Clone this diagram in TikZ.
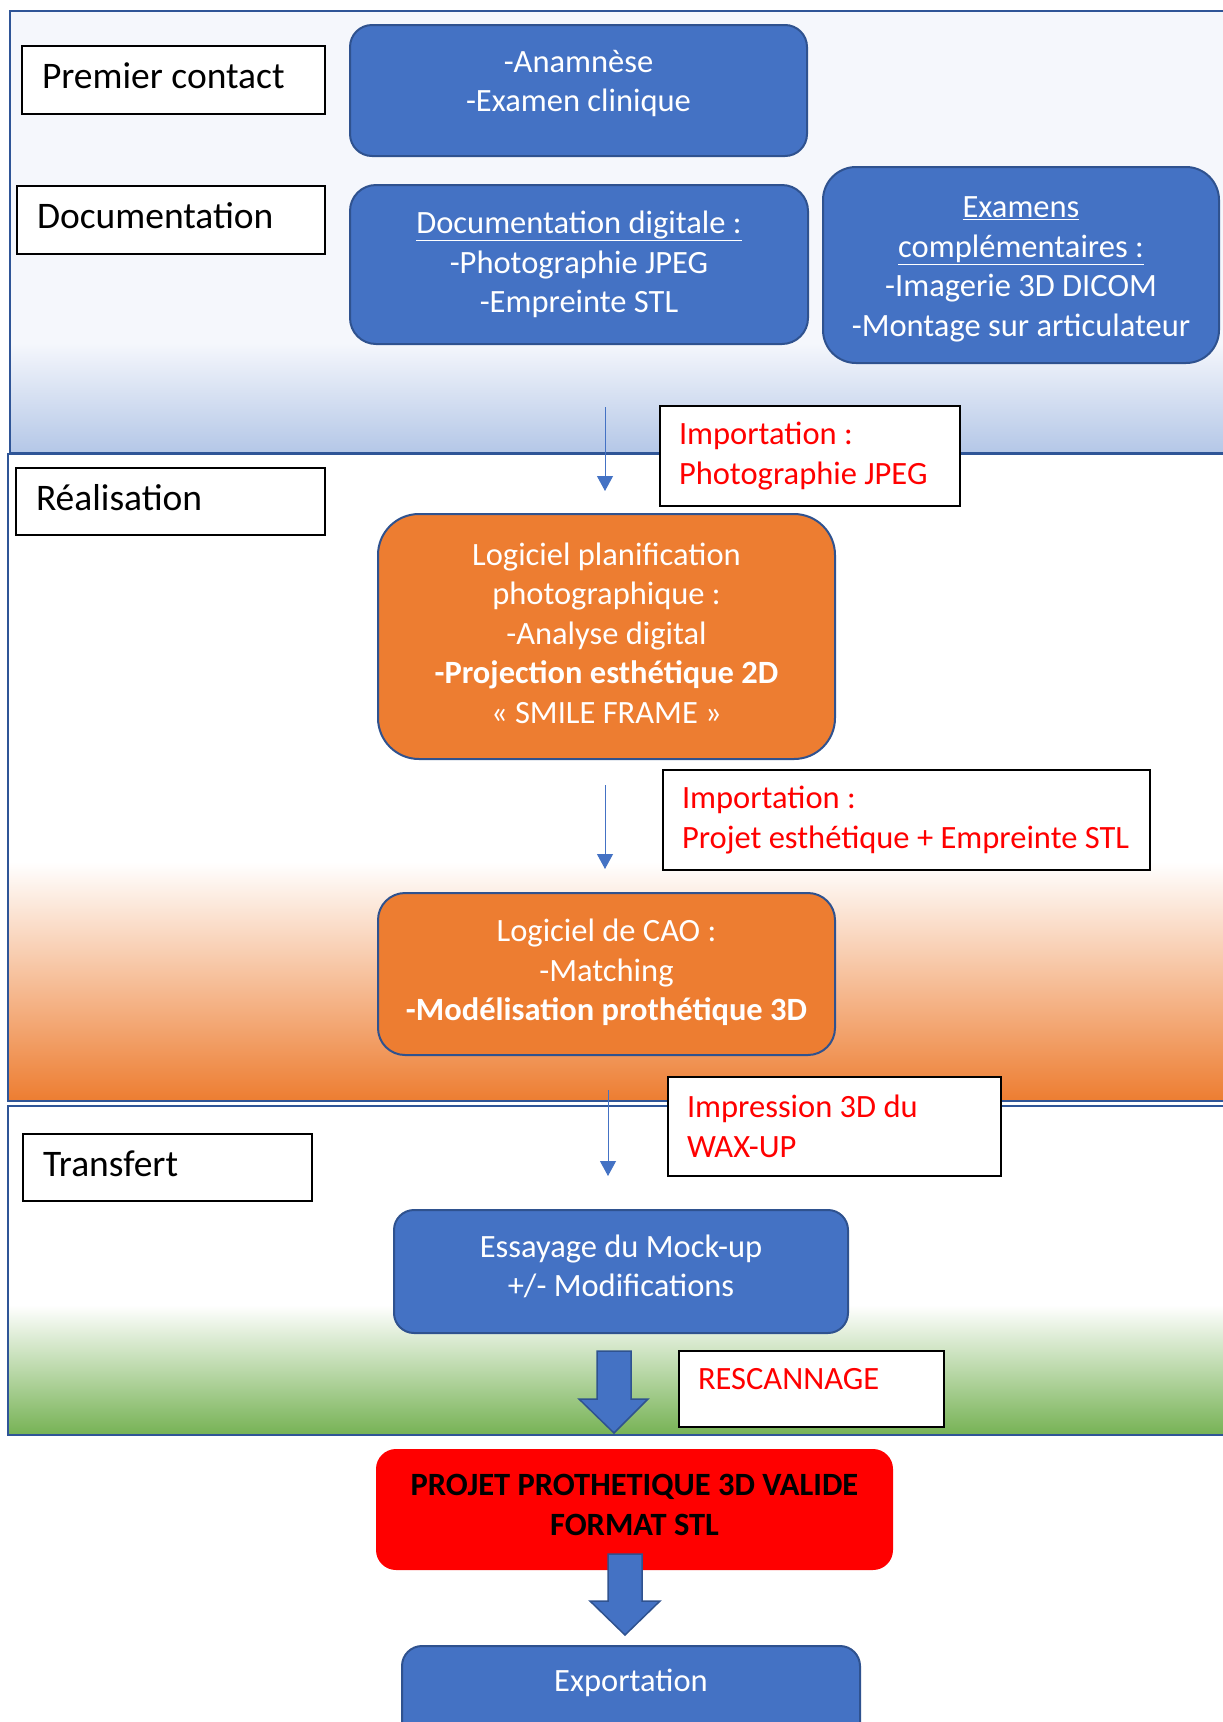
\documentclass[tikz,border=0pt]{standalone}
\usepackage{fontspec}
\setmainfont{Carlito}
\usetikzlibrary{arrows.meta}
\definecolor{boxblue}{HTML}{4472C4}
\definecolor{boxedge}{HTML}{2F528F}
\definecolor{panedge}{HTML}{2F5597}
\definecolor{boxorange}{HTML}{ED7D31}
\definecolor{toplight}{HTML}{F5F7FC}
\definecolor{topblue}{HTML}{B4C7E7}
\definecolor{botgreen}{RGB}{118,178,84}
\definecolor{projred}{HTML}{FF0000}
\newcommand\myul[1]{\underline{#1}}
% centred lines, raised by #1 (zero-size box)
\newcommand\boxlines[2]{\raisebox{#1}[0pt][0pt]{\begin{tabular}{@{}c@{}}#2\end{tabular}}}
\newcommand\lbltext[1]{\raisebox{-8.5pt}[0pt][0pt]{#1}}
\begin{document}
\begin{tikzpicture}[x=1pt,y=-1pt,
  paneline/.style={draw=panedge, line width=2.5pt},
  lbl/.style={draw=black, line width=1.3pt, fill=white, font=\fontsize{37.5}{44}\selectfont,
    align=flush left, inner xsep=20pt, inner ysep=0pt},
  impbox/.style={draw=black, line width=1.3pt, fill=white, text=projred,
    font=\fontsize{32.5}{39.5}\selectfont, align=flush left, inner xsep=19pt, inner ysep=0pt},
  bluebox/.style={draw=boxedge, line width=2pt, fill=boxblue, text=white,
    font=\fontsize{32.5}{39.5}\selectfont, inner sep=0pt},
  orangebox/.style={draw=boxedge, line width=2pt, fill=boxorange, text=white,
    font=\fontsize{32.5}{39.5}\selectfont, inner sep=0pt},
  redbox/.style={fill=projred, text=black, rounded corners=20pt,
    font=\fontsize{32.5}{39.5}\selectfont\bfseries, inner sep=0pt},
  thinarrow/.style={draw=boxblue, line width=1pt, -{Triangle[width=16pt,length=15pt]}},
  blockarrow/.style={fill=boxblue, draw=boxedge, line width=1.5pt, line join=miter}
]
\useasboundingbox (0,0) rectangle (1223,1722);
\clip (0,0) rectangle (1223,1722);

% ---- panels ----
\fill[toplight] (10,11) rectangle (1240,453);
\shade[top color=toplight, bottom color=topblue] (10,343) rectangle (1240,453);
\draw[paneline] (10,11) rectangle (1240,453);

\fill[white] (8,454) rectangle (1240,1101);
\shade[top color=white, bottom color=boxorange] (8,862) rectangle (1240,1101);
\draw[paneline] (8,454) rectangle (1240,1101);

\fill[white] (8,1106) rectangle (1240,1435);
\shade[top color=white, bottom color=botgreen] (8,1305) rectangle (1240,1435);
\draw[paneline] (8,1106) rectangle (1240,1435);

% ---- stage labels ----
\node[lbl, minimum width=303pt, minimum height=68pt, text width=263pt] (pc) at (173.5,80) {\lbltext{Premier contact}};
\node[lbl, minimum width=308pt, minimum height=68pt, text width=268pt] (doclbl) at (171,220) {\lbltext{Documentation}};
\node[lbl, minimum width=309pt, minimum height=67pt, text width=269pt] (real) at (170.5,501.5) {\lbltext{Réalisation}};
\node[lbl, minimum width=289pt, minimum height=67pt, text width=249pt] (transf) at (167.5,1167.5) {\lbltext{Transfert}};

% ---- blue boxes ----
\node[bluebox, rounded corners=22pt, minimum width=457pt, minimum height=131pt] (anam) at (578.5,90.5)
  {\boxlines{0pt}{-Anamnèse\\-Examen clinique}};
\node[bluebox, rounded corners=26pt, minimum width=458pt, minimum height=159pt] (docdig) at (579,264.5)
  {\boxlines{-7pt}{\myul{Documentation digitale :}\\-Photographie JPEG\\-Empreinte STL}};
\node[bluebox, rounded corners=33pt, minimum width=396pt, minimum height=196pt] (exam) at (1021,265)
  {\boxlines{-10.5pt}{\myul{Examens}\\\myul{complémentaires :}\\-Imagerie 3D DICOM\\-Montage sur articulateur}};

% ---- importation 1 ----
\node[impbox, minimum width=300pt, minimum height=100pt, text width=262pt] (imp1) at (810,456)
  {Importation :\\Photographie JPEG};

% ---- orange boxes ----
\node[orangebox, rounded corners=41pt, minimum width=457pt, minimum height=245pt] (planif) at (606.5,636.5)
  {\boxlines{-6pt}{Logiciel planification\\photographique :\\-Analyse digital\\\textbf{-Projection esthétique 2D}\\« SMILE FRAME »}};
\node[impbox, minimum width=487pt, minimum height=100pt, text width=449pt] (imp2) at (906.5,820)
  {Importation :\\Projet esthétique + Empreinte STL};
\node[orangebox, rounded corners=27pt, minimum width=457pt, minimum height=162pt] (cao) at (606.5,974)
  {\boxlines{-5.5pt}{Logiciel de CAO :\\-Matching\\\textbf{-Modélisation prothétique 3D}}};

% ---- transfert ----
\node[impbox, minimum width=333pt, minimum height=99pt, text width=295pt] (impr) at (834.5,1126.5)
  {Impression 3D du\\WAX-UP};
\node[bluebox, rounded corners=20pt, minimum width=454pt, minimum height=123pt] (essay) at (621,1271.5)
  {\boxlines{-4pt}{Essayage du Mock-up\\+/- Modifications}};
\node[impbox, minimum width=265pt, minimum height=76pt, text width=227pt] (resc) at (811.5,1389)
  {\raisebox{0pt}[0pt][0pt]{RESCANNAGE}};

% ---- final ----
\node[redbox, minimum width=517pt, minimum height=121pt] (projet) at (634.5,1509.5)
  {\boxlines{-4.5pt}{PROJET PROTHETIQUE 3D VALIDE\\FORMAT STL}};
\node[bluebox, rounded corners=20pt, minimum width=458pt, minimum height=140pt] (export) at (631,1716)
  {\boxlines{26pt}{Exportation}};

% ---- thin arrows ----
\coordinate (a1s) at (605,407);
\coordinate (a1e) at (605,491);
\coordinate (a2s) at (605,785);
\coordinate (a2e) at (605,869);
\coordinate (a3s) at (608,1090);
\coordinate (a3e) at (608,1176);
\draw[thinarrow] (a1s) -- (a1e);
\draw[thinarrow] (a2s) -- (a2e);
\draw[thinarrow] (a3s) -- (a3e);

% ---- block arrows ----
\draw[blockarrow] (597,1351) -- (631,1351) -- (631,1399) -- (648,1399) -- (614,1433)
  -- (579,1399) -- (597,1399) -- cycle;
\draw[blockarrow] (608,1554) -- (642,1554) -- (642,1601) -- (660,1601) -- (625,1635)
  -- (590,1601) -- (608,1601) -- cycle;
\end{tikzpicture}
\end{document}
